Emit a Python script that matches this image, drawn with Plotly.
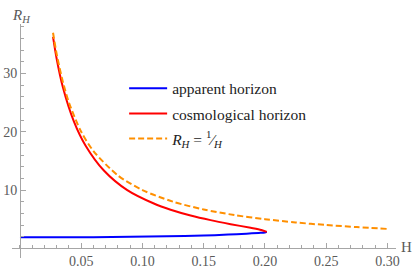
import plotly.graph_objects as go

# ---- data ----
apparent_H = [0.0, 0.03, 0.06, 0.09, 0.12, 0.15, 0.17, 0.185, 0.195, 0.2, 0.2015]
apparent_R = [1.88, 1.89, 1.92, 1.97, 2.07, 2.2, 2.36, 2.52, 2.64, 2.72, 2.82]

cosmo_H = [0.027, 0.03, 0.035, 0.044, 0.0535, 0.0685, 0.0876, 0.1093, 0.123,
           0.1393, 0.1556, 0.172, 0.1883, 0.197, 0.2015]
cosmo_R = [36.3, 32.5, 27.7, 21.8, 17.66, 13.36, 9.99, 7.69, 6.63,
           5.64, 4.84, 4.15, 3.52, 3.15, 2.82]

inv_H = [0.027, 0.03, 0.035, 0.04, 0.05, 0.06, 0.08, 0.1, 0.125, 0.15, 0.175,
         0.2, 0.225, 0.25, 0.275, 0.3]
inv_R = [37.0, 33.3, 28.6, 25.0, 20.0, 16.7, 12.5, 10.0, 8.0, 6.67, 5.71,
         5.0, 4.44, 4.0, 3.64, 3.33]

x_ticks = [0.05, 0.10, 0.15, 0.20, 0.25, 0.30]
x_tick_text = ["0.05", "0.10", "0.15", "0.20", "0.25", "0.30"]
y_ticks = [10, 20, 30]
y_tick_text = ["10", "20", "30"]

names = ["apparent horizon", "cosmological horizon",
         "<i>R<sub>H</sub></i> = <sup>1</sup>⁄<sub><i>H</i></sub>"]

X_RANGE = [-0.0065, 0.307]
Y_RANGE = [-1.66, 38.5]

AXIS_COLOR = "#a6a6a6"
LABEL_COLOR = "#5a5a5a"
SERIF = "Liberation Serif"

fig = go.Figure()
fig.add_trace(go.Scatter(x=apparent_H, y=apparent_R, mode="lines", name=names[0],
                         line=dict(color="#0000ff", width=2, shape="spline", smoothing=0.8),
                         legendgroup="a"))
fig.add_trace(go.Scatter(x=cosmo_H, y=cosmo_R, mode="lines", name=names[1],
                         line=dict(color="#ff0000", width=2, shape="spline", smoothing=0.8),
                         legendgroup="b"))
fig.add_trace(go.Scatter(x=inv_H, y=inv_R, mode="lines", name=names[2],
                         line=dict(color="#ff8f00", width=2, dash="6px,3px",
                                   shape="spline", smoothing=0.8),
                         legendgroup="c"))

x_pos = (0 - X_RANGE[0]) / (X_RANGE[1] - X_RANGE[0])
y_pos = (0 - Y_RANGE[0]) / (Y_RANGE[1] - Y_RANGE[0])

fig.update_layout(
    width=415, height=270,
    margin=dict(l=12, r=19, t=24, b=12, autoexpand=False),
    paper_bgcolor="white", plot_bgcolor="white",
    font=dict(family=SERIF, color=LABEL_COLOR),
    showlegend=True,
    legend=dict(x=0.292, y=0.796, xanchor="left", yanchor="top",
                bgcolor="rgba(0,0,0,0)", tracegroupgap=2,
                font=dict(family=SERIF, size=15.5, color="#222222"),
                itemwidth=38),
    xaxis=dict(range=X_RANGE, anchor="free", position=y_pos, automargin=False,
               showline=True, linecolor=AXIS_COLOR, linewidth=1,
               showgrid=False, zeroline=False,
               tickmode="array", tickvals=x_ticks, ticktext=x_tick_text,
               ticks="inside", ticklen=5, tickcolor=AXIS_COLOR,
               tickfont=dict(family=SERIF, size=14, color=LABEL_COLOR),
               minor=dict(tickmode="linear", tick0=0, dtick=0.01, ticks="inside",
                          ticklen=3, tickcolor=AXIS_COLOR, showgrid=False)),
    yaxis=dict(range=Y_RANGE, anchor="free", position=x_pos, automargin=False,
               showline=True, linecolor=AXIS_COLOR, linewidth=1,
               showgrid=False, zeroline=False,
               tickmode="array", tickvals=y_ticks, ticktext=y_tick_text,
               ticks="inside", ticklen=5, tickcolor=AXIS_COLOR,
               tickfont=dict(family=SERIF, size=14, color=LABEL_COLOR),
               minor=dict(tickmode="linear", tick0=0, dtick=2, ticks="inside",
                          ticklen=3, tickcolor=AXIS_COLOR, showgrid=False)),
    annotations=[
        dict(text="<i>R<sub>H</sub></i>", xref="paper", yref="paper",
             x=-0.005, y=1.035, xanchor="left", yanchor="middle", showarrow=False,
             font=dict(family=SERIF, size=15, color=LABEL_COLOR)),
        dict(text="H", xref="paper", yref="paper",
             x=1.028, y=0.045, xanchor="center", yanchor="middle", showarrow=False,
             font=dict(family=SERIF, size=15, color=LABEL_COLOR)),
    ],
)

fig.write_html("out.html", config={"displayModeBar": False},
               post_script="document.body.style.margin='0';document.body.style.padding='0';")
